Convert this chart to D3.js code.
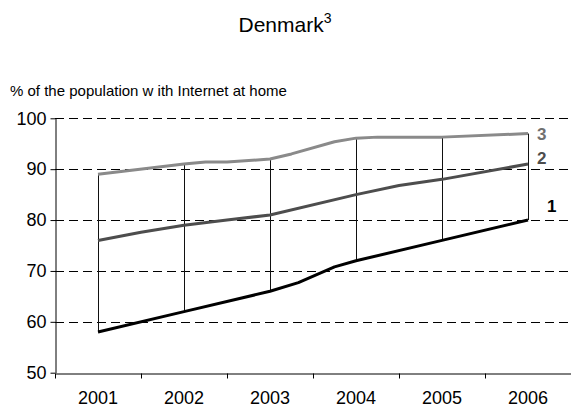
<!DOCTYPE html>
<html>
<head>
<meta charset="utf-8">
<script src="https://cdn.jsdelivr.net/npm/d3@7"></script>
<style>
  html, body { margin: 0; padding: 0; background: #fff; }
  svg { display: block; font-family: "Liberation Sans", Arial, sans-serif; }
</style>
</head>
<body>
<svg id="chart" width="571" height="412"></svg>
<script>
// ---- data ----
const years = ["2001", "2002", "2003", "2004", "2005", "2006"];
const yTicks = [50, 60, 70, 80, 90, 100];
// series: [fractional year, value]
const series3 = [[2001, 89], [2002, 91], [2002.25, 91.4], [2002.5, 91.4], [2003, 92], [2003.25, 93], [2003.75, 95.4], [2004, 96.1], [2004.25, 96.3], [2005, 96.3], [2006, 97]];
const series2 = [[2001, 76], [2001.5, 77.6], [2002, 79], [2002.5, 80], [2003, 81], [2004, 85], [2004.5, 86.8], [2005, 88], [2006, 91]];
const series1 = [[2001, 58], [2002, 62], [2003, 66], [2003.33, 67.7], [2003.75, 70.8], [2004, 72], [2005, 76], [2006, 80]];
const seriesLabels = ["1", "2", "3"];
const titleText = "Denmark";
const titleSup = "3";
const yLabel = "% of the population w ith Internet at home";

// ---- layout ----
const svg = d3.select("#chart");
const mLeft = 55, mRight = 571, mTop = 118.3, mBottom = 372.7;

const x = d3.scaleBand().domain(years).range([mLeft, mRight]).padding(0);
const xl = d3.scaleLinear()
  .domain([+years[0] - 0.5, +years[years.length - 1] + 0.5])
  .range(x.range());
const y = d3.scaleLinear().domain([50, 100]).range([mBottom, mTop]);

// title
const t = svg.append("text")
  .attr("x", 285).attr("y", 32)
  .attr("text-anchor", "middle")
  .attr("font-size", 21).attr("fill", "#000");
t.append("tspan").text(titleText);
t.append("tspan").attr("dy", -9).attr("font-size", 14).text(titleSup);

// y label
svg.append("text")
  .attr("x", 10).attr("y", 96)
  .attr("font-size", 15).attr("fill", "#000")
  .text(yLabel);

// gridlines
svg.append("g").selectAll("line")
  .data(yTicks.filter(d => d > 50))
  .join("line")
  .attr("x1", mLeft).attr("x2", mRight - 1)
  .attr("y1", d => Math.round(y(d)) + 0.5).attr("y2", d => Math.round(y(d)) + 0.5)
  .attr("stroke", "#000").attr("stroke-width", 1)
  .attr("stroke-dasharray", "9,5");

// y axis
const yAxis = svg.append("g")
  .attr("transform", `translate(${mLeft + 0.5},0)`)
  .call(d3.axisLeft(y).tickValues(yTicks).tickSize(5).tickSizeOuter(0).tickPadding(4));
yAxis.select(".domain").attr("stroke", "#000");
yAxis.selectAll(".tick line").attr("stroke", "#000");
yAxis.selectAll(".tick text").attr("font-size", 18).attr("fill", "#000")
  .attr("font-family", "Liberation Sans, Arial, sans-serif");

// x axis
const xAxis = svg.append("g")
  .attr("transform", `translate(0,${Math.round(mBottom) + 0.5})`)
  .call(d3.axisBottom(x).tickSize(0).tickSizeOuter(0).tickPadding(18));
xAxis.select(".domain").attr("stroke", "#000");
xAxis.selectAll(".tick text").attr("font-size", 18).attr("fill", "#000")
  .attr("font-family", "Liberation Sans, Arial, sans-serif");
// tick marks at category boundaries
const boundaries = years.map(d => x(d)).concat([x(years[years.length - 1]) + x.bandwidth()]);
xAxis.append("g").selectAll("line")
  .data(boundaries)
  .join("line")
  .attr("x1", d => Math.round(d) + 0.5).attr("x2", d => Math.round(d) + 0.5)
  .attr("y1", 0).attr("y2", 5)
  .attr("stroke", "#000");

// drop (high-low) lines at each year
const yearVal = (s, yr) => s.find(p => p[0] === yr)[1];
svg.append("g").selectAll("line")
  .data(years.map(Number))
  .join("line")
  .attr("x1", d => Math.round(xl(d)) + 0.5).attr("x2", d => Math.round(xl(d)) + 0.5)
  .attr("y1", d => y(yearVal(series3, d)))
  .attr("y2", d => y(yearVal(series1, d)))
  .attr("stroke", "#111").attr("stroke-width", 1);

// series lines
const line = d3.line().x(d => xl(d[0])).y(d => y(d[1]));
const allSeries = [
  { data: series3, color: "#8a8a8a", label: seriesLabels[2], dx: 9, dy: 6 },
  { data: series2, color: "#4d4d4d", label: seriesLabels[1], dx: 9, dy: 0 },
  { data: series1, color: "#000000", label: seriesLabels[0], dx: 19, dy: -8 }
];
svg.append("g").selectAll("path")
  .data(allSeries)
  .join("path")
  .attr("d", d => line(d.data))
  .attr("fill", "none")
  .attr("stroke", d => d.color)
  .attr("stroke-width", 3)
  .attr("stroke-linejoin", "round");

// end labels
svg.append("g").selectAll("text")
  .data(allSeries)
  .join("text")
  .attr("x", d => xl(d.data[d.data.length - 1][0]) + d.dx)
  .attr("y", d => y(d.data[d.data.length - 1][1]) + d.dy)
  .attr("font-size", 17).attr("font-weight", "bold")
  .attr("fill", d => d.color === "#8a8a8a" ? "#707070" : d.color)
  .text(d => d.label);
</script>
</body>
</html>
